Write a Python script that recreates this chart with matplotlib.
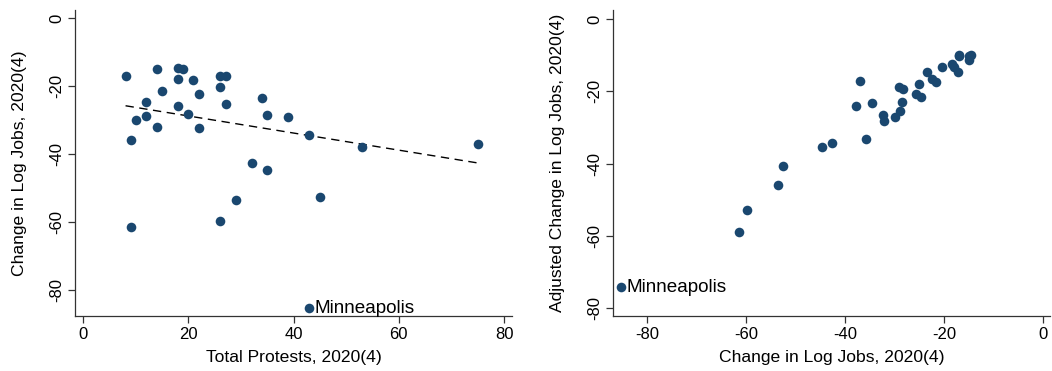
import matplotlib
matplotlib.use("Agg")
import matplotlib.pyplot as plt
import numpy as np

plt.rcParams['font.family'] = ['Liberation Sans', 'DejaVu Sans']
plt.rcParams['axes.unicode_minus'] = False

# one row per city; last row is Minneapolis
protests = np.array([8.1, 14.0, 18.0, 19.1, 18.0, 21.0, 26.0, 27.1, 15.0, 22.1,
                     26.0, 12.0, 27.1, 34.0, 18.0, 10.1, 12.0, 20.0, 14.0, 22.1,
                     35.0, 39.0, 43.0, 9.1, 53.0, 75.0, 32.1, 35.0, 29.0, 45.1,
                     26.1, 9.1, 43.0])
log_jobs = np.array([-17.1, -15.0, -14.6, -15.0, -17.9, -18.3, -17.0, -16.9, -21.5, -22.4,
                     -20.3, -24.7, -25.1, -23.5, -25.7, -29.9, -28.9, -28.3, -32.1, -32.4,
                     -28.4, -29.1, -34.5, -35.8, -37.8, -36.9, -42.7, -44.7, -53.6, -52.6,
                     -59.8, -61.4, -85.3])
adj_jobs = np.array([-14.7, -11.2, -9.8, -10.3, -13.2, -12.5, -10.2, -9.8, -17.3, -16.5,
                     -13.3, -21.5, -17.9, -14.6, -20.8, -27.2, -25.5, -19.3, -28.1, -26.4,
                     -22.9, -18.9, -23.1, -33.2, -24.0, -17.2, -34.4, -35.4, -45.9, -40.7,
                     -52.9, -58.8, -74.1])
label_city = "Minneapolis"

navy = "#1a476f"
tick_fs = 12
title_fs = 12.6
city_fs = 13.6

fig = plt.figure(figsize=(10.52, 3.71), dpi=100)
ax1 = fig.add_axes([0.0713, 0.1482, 0.4154, 0.8248])
ax2 = fig.add_axes([0.583, 0.1482, 0.4152, 0.8248])


def style(ax):
    for s in ["top", "right"]:
        ax.spines[s].set_visible(False)
    for s in ["left", "bottom"]:
        ax.spines[s].set_color("#333333")
        ax.spines[s].set_linewidth(0.9)
    ax.tick_params(direction="out", length=5, width=0.9, color="#333333",
                   labelsize=tick_fs, pad=3)
    for lab in ax.get_yticklabels():
        lab.set_rotation(90)
        lab.set_va("center")


# left: protests vs job change, fit line without Minneapolis
ax1.scatter(protests, log_jobs, s=48, color=navy, linewidths=0, zorder=3)
slope, icpt = np.polyfit(protests[:-1], log_jobs[:-1], 1)
xs = np.array([protests[:-1].min(), protests[:-1].max()])
ax1.plot(xs, icpt + slope * xs, color="black", lw=1.0, ls=(0, (6, 4)), zorder=2)
ax1.annotate(label_city, (protests[-1], log_jobs[-1]), xytext=(4, 0),
             textcoords="offset points", va="center", fontsize=city_fs)
ax1.set_xlim(-1.5, 81.5)
ax1.set_ylim(-87.6, 2.4)
ax1.set_xticks([0, 20, 40, 60, 80])
ax1.set_yticks([0, -20, -40, -60, -80])
ax1.set_xlabel("Total Protests, 2020(4)", fontsize=title_fs, labelpad=6)
ax1.set_ylabel("Change in Log Jobs, 2020(4)", fontsize=title_fs, labelpad=16)
style(ax1)

# right: raw vs adjusted job change
ax2.scatter(log_jobs, adj_jobs, s=48, color=navy, linewidths=0, zorder=3)
ax2.annotate(label_city, (log_jobs[-1], adj_jobs[-1]), xytext=(4, 0),
             textcoords="offset points", va="center", fontsize=city_fs)
ax2.set_xlim(-86.9, 1.5)
ax2.set_ylim(-82.1, 2.5)
ax2.set_xticks([-80, -60, -40, -20, 0])
ax2.set_yticks([0, -20, -40, -60, -80])
ax2.set_xlabel("Change in Log Jobs, 2020(4)", fontsize=title_fs, labelpad=6)
ax2.set_ylabel("Adjusted Change in Log Jobs, 2020(4)", fontsize=title_fs, labelpad=16)
style(ax2)

fig.savefig("out.png", dpi=100)
